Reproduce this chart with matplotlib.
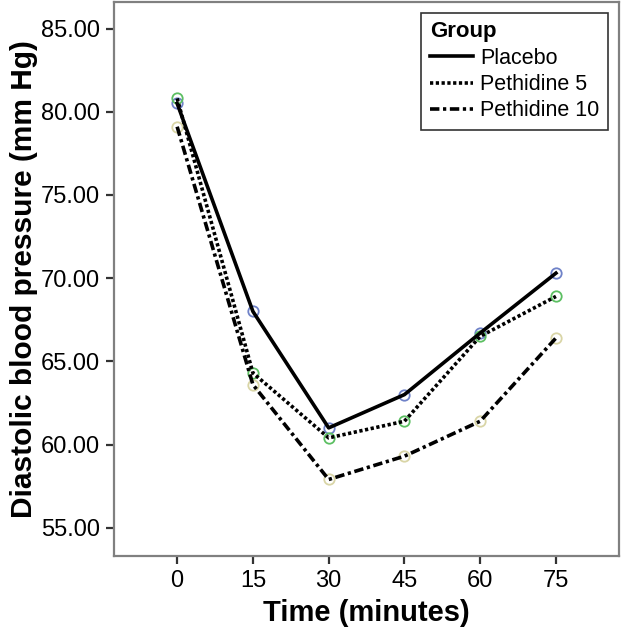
import matplotlib
matplotlib.use("Agg")
import matplotlib.pyplot as plt
from matplotlib.ticker import FormatStrFormatter

plt.rcParams['font.family'] = ['Liberation Sans', 'DejaVu Sans']

# время измерения, минуты
times = [0, 15, 30, 45, 60, 75]

placebo = [80.5, 68.0, 61.0, 63.0, 66.7, 70.3]
pethidine5 = [80.8, 64.3, 60.4, 61.4, 66.5, 68.9]
pethidine10 = [79.1, 63.6, 57.9, 59.3, 61.4, 66.4]

group_names = ['Placebo', 'Pethidine 5', 'Pethidine 10']
marker_colors = ['#6f82c8', '#5cbf62', '#d9d5a6']
line_styles = ['-', (0, (0.9, 0.7)), (0, (2.6, 1.0, 0.9, 1.0))]

fig = plt.figure(figsize=(6.22, 6.34), dpi=100)
ax = fig.add_axes([0.1833, 0.123, 0.812, 0.874])

series = [placebo, pethidine5, pethidine10]
for vals, name, col, ls in zip(series, group_names, marker_colors, line_styles):
    ax.plot(times, vals, color='black', linestyle=ls, linewidth=2.6, label=name, zorder=3)
    ax.plot(times, vals, linestyle='none', marker='o', markersize=7.5,
            markerfacecolor='none', markeredgecolor=col, markeredgewidth=1.3, zorder=2)

ax.set_xlim(-12.5, 87.5)
ax.set_ylim(53.3, 86.6)
ax.set_xticks(times)
ax.set_yticks([55, 60, 65, 70, 75, 80, 85])
ax.yaxis.set_major_formatter(FormatStrFormatter('%.2f'))
ax.tick_params(axis='both', labelsize=17, length=6, width=1.6, color='#333333', pad=4)

for sp in ax.spines.values():
    sp.set_color('#808080')
    sp.set_linewidth(1.6)

ax.set_xlabel('Time (minutes)', fontsize=21, fontweight='bold', labelpad=5)
ax.set_ylabel('Diastolic blood pressure (mm Hg)', fontsize=21.5, fontweight='bold', labelpad=2)

leg = ax.legend(title='Group', loc='upper right', fontsize=15.5, frameon=True,
                fancybox=False, edgecolor='black', handlelength=2.0,
                borderaxespad=0.5, alignment='left', labelspacing=0.25,
                handletextpad=0.35, borderpad=0.4)
leg.get_title().set_fontweight('bold')
leg.get_title().set_fontsize(16)
leg.get_frame().set_linewidth(1.2)

plt.savefig('out.png', dpi=100)
